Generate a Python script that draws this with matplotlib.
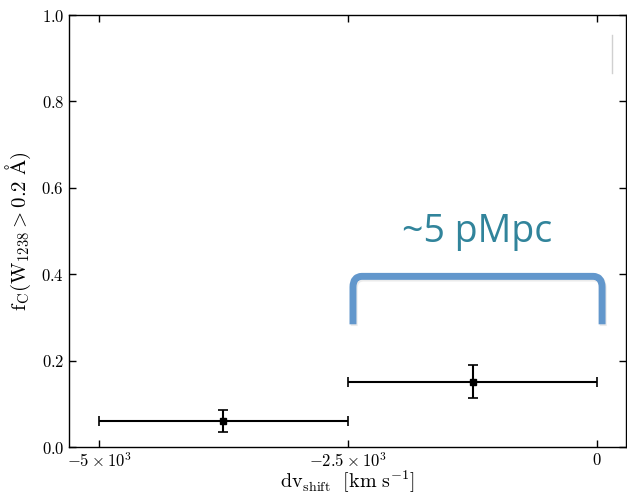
import numpy as np
import matplotlib
matplotlib.use("Agg")
import matplotlib.pyplot as plt
from matplotlib.path import Path
from matplotlib.patches import PathPatch

plt.rcParams['mathtext.fontset'] = 'cm'
plt.rcParams['font.family'] = 'serif'
plt.rcParams['font.serif'] = ['DejaVu Serif']

# binned data
dv_center = [-3750, -1250]
dv_halfwidth = [1250, 1250]
f_c = [0.06, 0.151]
f_c_err = [0.025, 0.038]

x_ticks = [-5000, -2500, 0]
x_ticklabels = [r'$-5\times10^{3}$', r'$-2.5\times10^{3}$', r'$0$']
y_ticks = [0.0, 0.2, 0.4, 0.6, 0.8, 1.0]
y_ticklabels = [r'$%.1f$' % v for v in y_ticks]

fig = plt.figure(figsize=(6.27, 4.95), dpi=100)
ax = fig.add_axes([69 / 627, 48 / 495, 557 / 627, 432 / 495])

ax.errorbar(dv_center, f_c, xerr=dv_halfwidth, yerr=f_c_err, fmt='s', color='k',
            ms=5, lw=1.5, capsize=3.5, capthick=1.2)

ax.set_xlim(-5300, 290)
ax.set_ylim(0, 1.0)
ax.set_xticks(x_ticks)
ax.set_xticklabels(x_ticklabels, fontsize=12)
ax.set_yticks(y_ticks)
ax.set_yticklabels(y_ticklabels, fontsize=12)
ax.tick_params(direction='in', top=True, right=True, length=5, width=1)
for s in ax.spines.values():
    s.set_linewidth(1.0)

ax.set_xlabel(r'$\rm dv_{shift}\ \ [km\ s^{-1}]$', fontsize=14.5, labelpad=-1.5)
ax.set_ylabel(r'$\rm f_C(W_{1238} > 0.2\ \AA)$', fontsize=15, labelpad=6)

# bracket annotation
bx0, bx1 = -2450, 50
by_top, by_bot = 0.395, 0.284
rx, ry = 90, 0.025
verts = [(bx0, by_bot), (bx0, by_top - ry), (bx0, by_top), (bx0 + rx, by_top),
         (bx1 - rx, by_top), (bx1, by_top), (bx1, by_top - ry), (bx1, by_bot)]
codes = [Path.MOVETO, Path.LINETO, Path.CURVE3, Path.CURVE3,
         Path.LINETO, Path.CURVE3, Path.CURVE3, Path.LINETO]
shadow = PathPatch(Path([(x + 12, y - 0.004) for x, y in verts], codes), fill=False,
                   edgecolor='#d8d8d8', lw=5, alpha=0.5, capstyle='butt')
ax.add_patch(shadow)
ax.add_patch(PathPatch(Path(verts, codes), fill=False, edgecolor='#6297cc',
                       lw=5, capstyle='butt', joinstyle='round'))
ax.text(-1200, 0.497, '~5 pMpc', color='#31849b', fontsize=27,
        family='Open Sans', ha='center', va='center')

# faint artifact line at top right
fig.add_artist(plt.Line2D([612 / 627, 612 / 627], [1 - 35 / 495, 1 - 73 / 495],
                          color='#d0d0d0', lw=1))

fig.savefig('out.png', dpi=100)
